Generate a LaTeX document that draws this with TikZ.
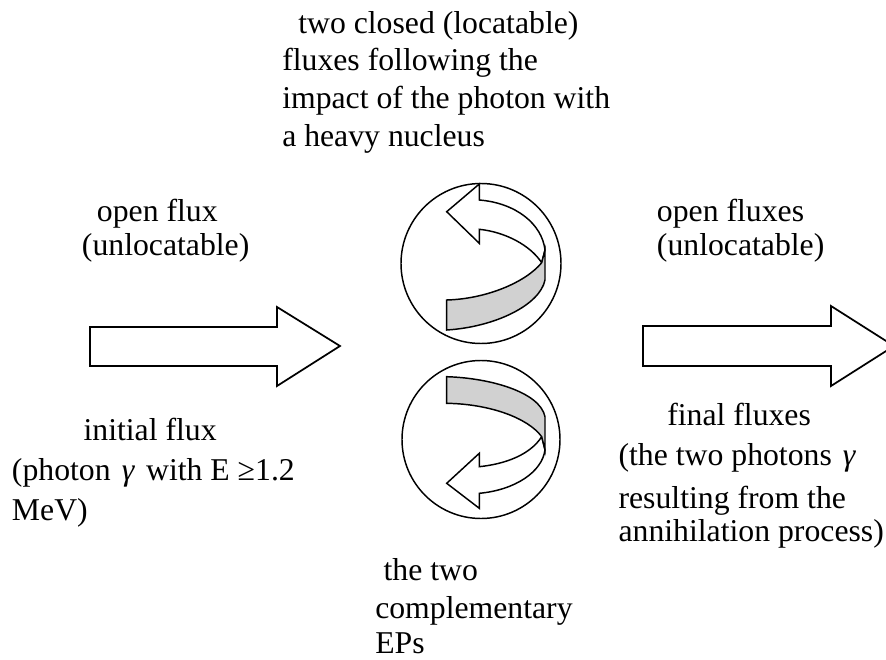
\documentclass[tikz,border=0pt]{standalone}
\usepackage{fontspec}
\setmainfont{Liberation Serif}

\tikzset{
  flux/.style={draw, line width=1.3pt, fill=white, line join=miter},
  band/.style={draw, line width=1.1pt, fill=black!18},
  txt/.style={anchor=base west, inner sep=0pt, font=\fontsize{23.8}{28}\selectfont}
}

\begin{document}
\begin{tikzpicture}[x=0.75pt,y=-0.75pt]

\useasboundingbox (0,0) rectangle (886,660);
\clip (0,0) rectangle (886,660);

% open fluxes in and out
\draw [flux] (90,327) -- (277,327) -- (277,307) -- (340,346) -- (277,386) -- (277,366) -- (90,366) -- cycle;
\draw [flux] (643,326) -- (831,326) -- (831,306) -- (894,346) -- (831,386) -- (831,366) -- (643,366) -- cycle;

% the two closed fluxes
\draw [line width=1.1pt] (481,263.5) circle [radius=80];
\draw [line width=1.1pt] (481,439.5) circle [radius=79];

\draw [flux, line width=1.1pt] (479.3,184) -- (446.7,211.7) -- (479.3,243.3) -- (479.3,229.3)
    .. controls (505,232) and (530,245) .. (541.7,262.7) -- (545,250)
    .. controls (542,224) and (516,203) .. (479.3,200) -- cycle;
\draw [band] (446.7,300) .. controls (485,299) and (525,283) .. (541.7,262.7) -- (545,250) -- (545,280)
    .. controls (540,305) and (495,327) .. (446.7,330) -- cycle;

\draw [flux, line width=1.1pt] (541.7,436.7) .. controls (530,455) and (505,464) .. (479.3,466.7)
    -- (479.3,453.3) -- (446.7,483.3) -- (479.3,508.3) -- (479.3,493.3)
    .. controls (515,490) and (542,472) .. (545,450) -- cycle;
\draw [band] (446.7,376.7) .. controls (490,378) and (540,392) .. (545,416.7) -- (545,450) -- (541.7,436.7)
    .. controls (528,418) and (490,404) .. (446.7,403.3) -- cycle;

% labels
\node [txt] (closed1) at (298,33.3) {two closed (locatable)};
\node [txt] (closed2) at (282,71) {fluxes following the};
\node [txt] (closed3) at (282,108.5) {impact of the photon with};
\node [txt] (closed4) at (282,146.5) {a heavy nucleus};

\node [txt] (open1) at (96.7,221.7) {open flux};
\node [txt] (open2) at (81.7,255) {(unlocatable)};

\node [txt] (opens1) at (656.7,221.7) {open fluxes};
\node [txt] (opens2) at (656.7,255) {(unlocatable)};

\node [txt] (init1) at (83.3,440.7) {initial flux};
\node [txt] (init2) at (11.7,480) {(photon\hspace{0.35em}\textit{γ}\hspace{0.35em}with E ≥1.2};
\node [txt] (init3) at (11.7,520) {MeV)};

\node [txt] (final1) at (667,425) {final fluxes};
\node [txt] (final2) at (618.3,465) {(the two photons\hspace{0.35em}\textit{γ}};
\node [txt] (final3) at (618.3,508) {resulting from the};
\node [txt] (final4) at (618.3,541.7) {annihilation process)};

\node [txt] (eps1) at (383.3,580) {the two};
\node [txt] (eps2) at (375,618.3) {complementary};
\node [txt] (eps3) at (375,653.3) {EPs};

\end{tikzpicture}
\end{document}
